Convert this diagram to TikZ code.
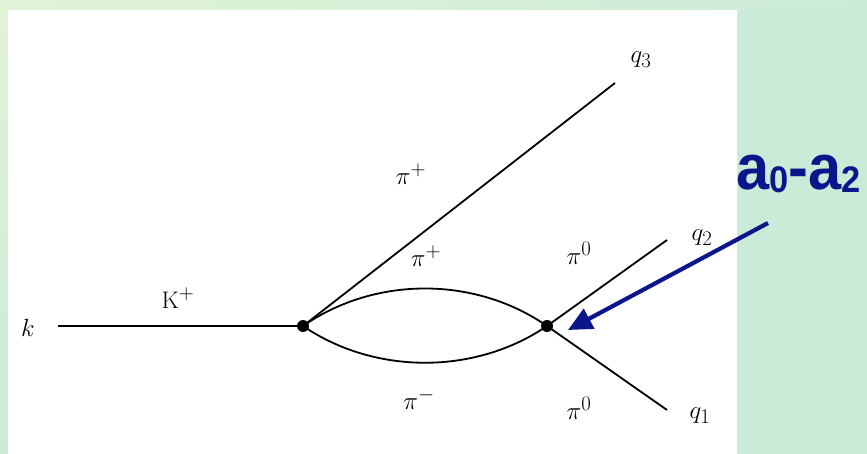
\documentclass[tikz,border=0pt]{standalone}
\usepackage{fontspec}
\newfontfamily\labfont{Liberation Sans}
\usetikzlibrary{arrows.meta}
\DeclareMathSizes{24}{24}{20}{16}
\definecolor{mint}{RGB}{203,235,216}
\definecolor{mintlight}{RGB}{225,243,214}
\definecolor{navy}{RGB}{12,22,140}
\tikzset{
  prop/.style={line width=1.8pt, black},
  vtx/.style={circle, fill=black, inner sep=0pt, minimum size=12pt},
  lab/.style={inner sep=0pt, font=\fontsize{24}{28}\selectfont},
}
\begin{document}
\begin{tikzpicture}[x=1pt,y=-1pt]
\useasboundingbox (0,0) rectangle (867,454);
\fill[mint] (0,0) rectangle (867,454);
\shade[top color=mintlight, bottom color=mint] (0,0) rectangle (8,454);
\shade[left color=mintlight, middle color=mintlight!60!mint, right color=mint] (0,0) rectangle (867,10);
% white panel
\fill[white] (8,10) rectangle (737,454);
% vertices
\node[vtx] (v1) at (303,326) {};
\node[vtx] (v2) at (547,326) {};
\coordinate (k0) at (58,326);
\coordinate (e3) at (615,83);
\coordinate (e2) at (667,240);
\coordinate (e1) at (667,410);
% lines
\draw[prop] (k0) -- (v1.center);
\draw[prop] (v1.center) -- (e3);
\draw[prop] (v2.center) -- (e2);
\draw[prop] (v2.center) -- (e1);
\draw[prop] (v1.center) .. controls (375,276) and (475,276) .. (v2.center);
\draw[prop] (v1.center) .. controls (375,375) and (475,375) .. (v2.center);
% labels
\node[lab] (lk) at (28,328) {$k$};
\node[lab] (lK) at (178,298) {$\mathrm{K}^{+}$};
\node[lab] (lp1) at (411,174) {$\pi^{+}$};
\node[lab] (lp2) at (426,256) {$\pi^{+}$};
\node[lab] (lp3) at (579,253) {$\pi^{0}$};
\node[lab] (lp4) at (419,399) {$\pi^{-}$};
\node[lab] (lp5) at (579,408) {$\pi^{0}$};
\node[lab] (lq3) at (641,60) {$q_3$};
\node[lab] (lq2) at (702,238) {$q_2$};
\node[lab] (lq1) at (700,416) {$q_1$};
% a0-a2 annotation
\node[anchor=base west, inner sep=0pt, text=navy, font=\labfont\bfseries\fontsize{64}{66}\selectfont] (ann) at (736,190) {\scalebox{0.93}[1]{a\raisebox{-3pt}{\fontsize{37}{38}\selectfont 0}-a\raisebox{-3pt}{\fontsize{37}{38}\selectfont 2}}};
\coordinate (as) at (768,223);
\draw[navy, line width=4.2pt, -{Triangle[length=24pt, width=22pt]}] (as) -- (568,330);
\end{tikzpicture}
\end{document}
